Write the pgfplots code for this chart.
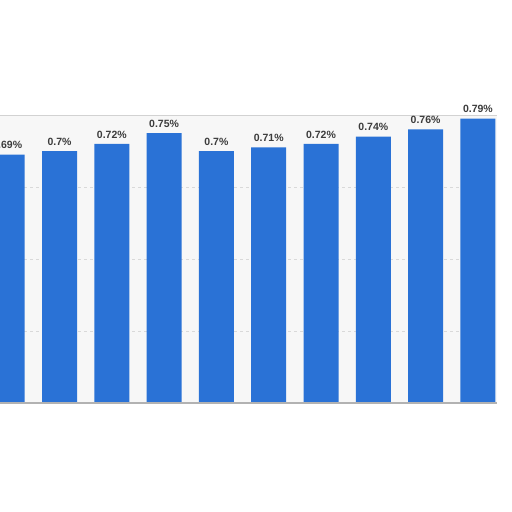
\documentclass[border=0pt]{standalone}
\usepackage{fontspec}
\setmainfont{Liberation Sans}
\usepackage{pgfplots}
\pgfplotsset{compat=1.18}
\definecolor{barblue}{HTML}{2A72D6}
\definecolor{lbl}{HTML}{3C3C3C}
\definecolor{bg}{HTML}{F7F7F7}
\begin{document}
\begin{tikzpicture}[x=1pt,y=1pt]
  \useasboundingbox (0,0) rectangle (512,512);
  \clip (0,0) rectangle (512,512);
  \fill[white] (0,0) rectangle (512,512);
  \begin{axis}[
      at={(0pt,109pt)}, anchor=south west,
      scale only axis, width=497pt, height=288pt,
      xmin=-0.138, xmax=9.365,
      ymin=0, ymax=0.8,
      axis background/.style={fill=bg},
      axis line style={draw=none},
      ticks=none,
      ytick={0.2,0.4,0.6}, ymajorgrids,
      major grid style={gray!30, dashed},
      bar width=35pt,
      nodes near coords={\pgfmathprintnumber[assume math mode=true]{\pgfplotspointmeta}\%},
      every node near coord/.append style={font=\fontsize{10.5}{12}\selectfont\bfseries, text=lbl, anchor=south, yshift=2pt},
      point meta=y,
      clip=false,
    ]
    \addplot[ybar, fill=barblue, draw=none] coordinates {
      (0,0.69) (1,0.70) (2,0.72) (3,0.75) (4,0.70)
      (5,0.71) (6,0.72) (7,0.74) (8,0.76) (9,0.79)
    };
    \draw[gray!60, line width=1.2pt] (axis cs:-0.138,0) -- (axis cs:9.365,0);
    \draw[gray!35, line width=0.8pt] (axis cs:-0.138,0.8) -- (axis cs:9.365,0.8);
  \end{axis}
\end{tikzpicture}
\end{document}
